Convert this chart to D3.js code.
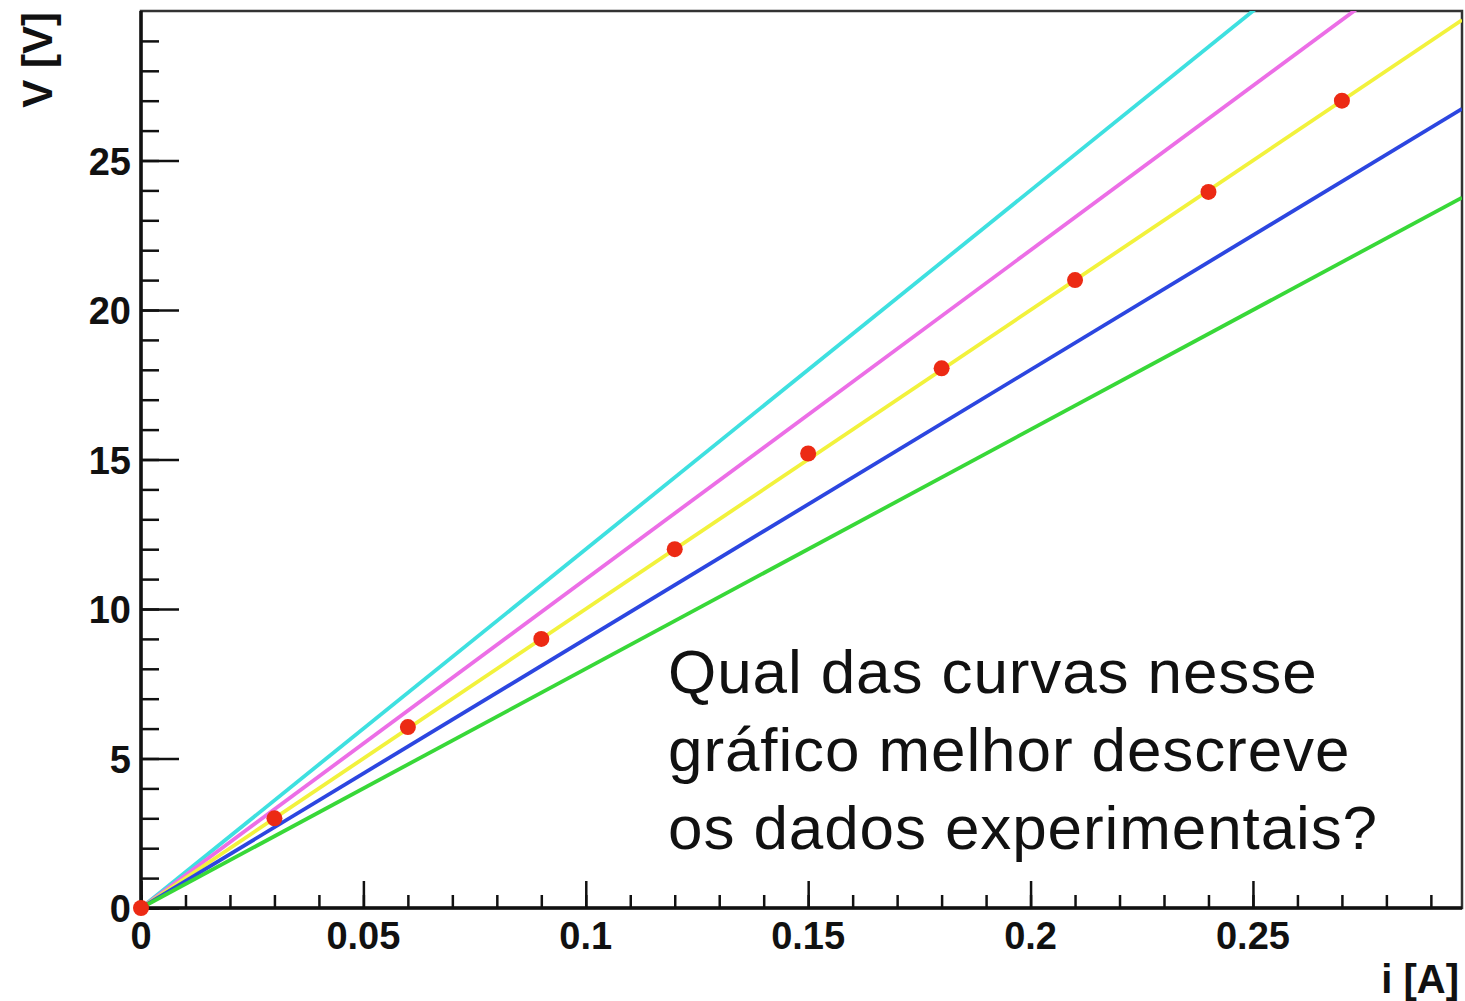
<!DOCTYPE html>
<html>
<head>
<meta charset="utf-8">
<script src="https://cdn.jsdelivr.net/npm/d3@7"></script>
<style>
  body { margin: 0; background: #fff; }
  svg { display: block; }
  text { font-family: "Liberation Sans", Arial, Helvetica, sans-serif; }
</style>
</head>
<body>
<div id="vis"></div>
<script>
// Frame
const FRAME_WIDTH = 1465;
const FRAME_HEIGHT = 1001;
const MARGINS = { left: 141, right: 3, top: 11, bottom: 93 };

const VIS_WIDTH = FRAME_WIDTH - MARGINS.left - MARGINS.right;
const VIS_HEIGHT = FRAME_HEIGHT - MARGINS.top - MARGINS.bottom;

// Data: measured current / voltage
const CURRENTS = [0, 0.03, 0.06, 0.09, 0.12, 0.15, 0.18, 0.21, 0.24, 0.27];
const VOLTAGES = [0, 3.0, 6.05, 9.0, 12.0, 15.2, 18.05, 21.0, 23.95, 27.0];

// Candidate curves V = R * i
const RESISTANCES = [120, 110, 100, 90, 80];
const CURVE_COLORS = ["#3ee0e0", "#ec6ee6", "#f2f23c", "#2c46e0", "#38d838"];

// Axes
const X_TICKS = [0, 0.05, 0.1, 0.15, 0.2, 0.25];
const Y_TICKS = [0, 5, 10, 15, 20, 25];
const X_MAX = 0.297;
const Y_MAX = 30;

const QUESTION = ["Qual das curvas nesse", "gráfico melhor descreve", "os dados experimentais?"];

const FRAME = d3.select("#vis")
    .append("svg")
    .attr("width", FRAME_WIDTH)
    .attr("height", FRAME_HEIGHT);

const X_SCALE = d3.scaleLinear().domain([0, X_MAX]).range([0, VIS_WIDTH]);
const Y_SCALE = d3.scaleLinear().domain([0, Y_MAX]).range([VIS_HEIGHT, 0]);

const G = FRAME.append("g")
    .attr("transform", "translate(" + MARGINS.left + "," + MARGINS.top + ")");

G.append("clipPath").attr("id", "clip")
  .append("rect")
    .attr("width", VIS_WIDTH)
    .attr("height", VIS_HEIGHT);

// frame box (top and right)
G.append("rect")
    .attr("width", VIS_WIDTH)
    .attr("height", VIS_HEIGHT)
    .attr("fill", "none")
    .attr("stroke", "#333")
    .attr("stroke-width", 2.5);

// curves
const line = d3.line()
    .x(d => X_SCALE(d[0]))
    .y(d => Y_SCALE(d[1]));

G.append("g")
    .attr("clip-path", "url(#clip)")
  .selectAll("path")
  .data(RESISTANCES)
  .enter()
  .append("path")
    .attr("d", r => line([[0, 0], [X_MAX, r * X_MAX]]))
    .attr("stroke", (r, i) => CURVE_COLORS[i])
    .attr("stroke-width", 3.8)
    .attr("fill", "none");

// X axis (ticks inside)
const xAxis = G.append("g")
    .attr("transform", "translate(0," + VIS_HEIGHT + ")");
xAxis.append("g")
    .call(d3.axisTop(X_SCALE).tickValues(d3.range(0, 0.2901, 0.01)).tickSize(13).tickFormat(""))
    .call(g => g.select(".domain").remove());
xAxis.append("g")
    .call(d3.axisTop(X_SCALE).tickValues(X_TICKS).tickSize(27).tickFormat(""))
    .call(g => g.select(".domain").remove());
xAxis.selectAll(".tick line").attr("stroke", "#111").attr("stroke-width", 2.5);
xAxis.append("line")
    .attr("x1", 0).attr("x2", VIS_WIDTH)
    .attr("stroke", "#111").attr("stroke-width", 3.5);
xAxis.selectAll(".xlabel")
  .data(X_TICKS)
  .enter()
  .append("text")
    .attr("x", d => X_SCALE(d))
    .attr("y", 41)
    .attr("text-anchor", "middle")
    .attr("font-size", 38)
    .attr("font-weight", "bold")
    .attr("fill", "#111")
    .text(d => d3.format("~g")(d));

// Y axis (ticks inside)
const yAxis = G.append("g");
yAxis.append("g")
    .call(d3.axisRight(Y_SCALE).tickValues(d3.range(0, 30, 1)).tickSize(18).tickFormat(""))
    .call(g => g.select(".domain").remove());
yAxis.append("g")
    .call(d3.axisRight(Y_SCALE).tickValues(Y_TICKS).tickSize(38).tickFormat(""))
    .call(g => g.select(".domain").remove());
yAxis.selectAll(".tick line").attr("stroke", "#111").attr("stroke-width", 2.5);
yAxis.append("line")
    .attr("y1", 0).attr("y2", VIS_HEIGHT)
    .attr("stroke", "#111").attr("stroke-width", 3.5);
yAxis.selectAll(".ylabel")
  .data(Y_TICKS)
  .enter()
  .append("text")
    .attr("x", -10)
    .attr("y", d => Y_SCALE(d) + 14)
    .attr("text-anchor", "end")
    .attr("font-size", 38)
    .attr("font-weight", "bold")
    .attr("fill", "#111")
    .text(d => d);

// data points
G.selectAll(".point")
  .data(CURRENTS)
  .enter()
  .append("circle")
    .attr("cx", d => X_SCALE(d))
    .attr("cy", (d, i) => Y_SCALE(VOLTAGES[i]))
    .attr("r", 8)
    .attr("fill", "#ec2a14");

// axis titles
FRAME.append("text")
    .attr("transform", "translate(52," + (MARGINS.top + 1) + ") rotate(-90)")
    .attr("text-anchor", "end")
    .attr("font-size", 42)
    .attr("font-weight", "bold")
    .attr("fill", "#111")
    .text("V [V]");

FRAME.append("text")
    .attr("x", MARGINS.left + VIS_WIDTH - 3)
    .attr("y", 993)
    .attr("text-anchor", "end")
    .attr("font-size", 40)
    .attr("font-weight", "bold")
    .attr("fill", "#111")
    .text("i [A]");

// question
FRAME.append("g")
  .selectAll("text")
  .data(QUESTION)
  .enter()
  .append("text")
    .attr("x", 668)
    .attr("y", (d, i) => 693 + i * 78)
    .attr("font-size", 62)
    .attr("letter-spacing", 0.9)
    .attr("fill", "#111")
    .text(d => d);
</script>
</body>
</html>
